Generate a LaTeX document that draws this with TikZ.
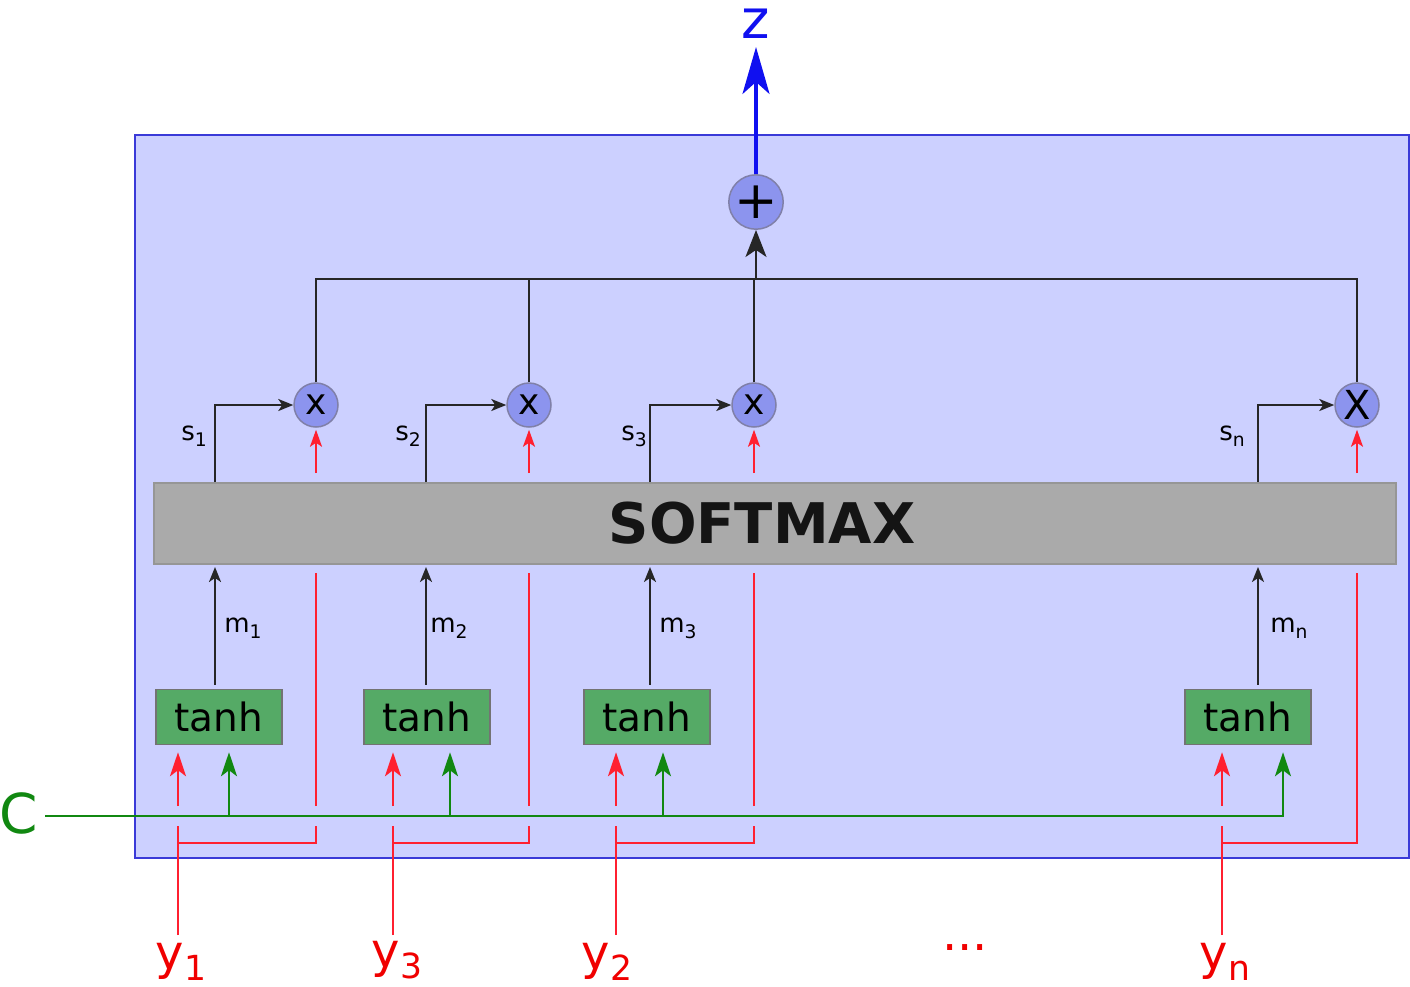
\documentclass[tikz,border=0pt]{standalone}
\usepackage{fontspec}
\setmainfont{DejaVu Sans}
\usetikzlibrary{arrows.meta}
\definecolor{boxfill}{HTML}{CCD0FF}
\definecolor{boxline}{HTML}{3A3AD8}
\definecolor{circfill}{HTML}{8C94EE}
\definecolor{circline}{HTML}{8080A8}
\definecolor{redl}{HTML}{FF2030}
\definecolor{redt}{HTML}{F00000}
\definecolor{greenl}{HTML}{118811}
\definecolor{tanhfill}{HTML}{55AA66}
\definecolor{smfill}{HTML}{AAAAAA}
\definecolor{smline}{HTML}{969696}
\definecolor{zblue}{HTML}{1010F0}
\newcommand{\subs}[1]{\raisebox{-0.22em}{\scalebox{0.72}{#1}}}
\newcommand{\fs}[1]{\fontsize{#1}{#1}\selectfont}
\begin{document}
\begin{tikzpicture}[x=1pt,y=-1pt,
  frame/.style={draw=boxline,line width=1.8pt,fill=boxfill,minimum width=1274pt,minimum height=723pt,inner sep=0pt},
  smbox/.style={draw=smline,line width=2pt,fill=smfill,minimum width=1242pt,minimum height=81pt,inner sep=0pt,font=\fs{56}\bfseries,text=black!92},
  tanhbox/.style={draw=black!55,line width=1.5pt,fill=tanhfill,minimum width=126pt,minimum height=55pt,inner sep=0pt,font=\fs{39}},
  mult/.style={circle,draw=circline,line width=1.5pt,fill=circfill,minimum size=44pt,inner sep=0pt,font=\fs{36}},
  plusc/.style={circle,draw=circline,line width=1.5pt,fill=circfill,minimum size=54pt,inner sep=0pt,font=\fs{52}},
  lbl/.style={inner sep=0pt,font=\fs{26}},
  ylbl/.style={inner sep=0pt,font=\fs{48},text=redt},
  bline/.style={draw=black!85,line width=2pt},
  rline/.style={draw=redl,line width=2pt},
  gline/.style={draw=greenl,line width=2.4pt},
  sarrow/.style={-{Stealth[length=15pt,width=12pt,inset=4pt]}},
  barrow/.style={-{Stealth[length=27pt,width=21pt,inset=7pt]}},
  tarrow/.style={-{Stealth[length=24pt,width=16pt,inset=6pt]}},
  rsarrow/.style={-{Stealth[length=17pt,width=12pt,inset=4pt]}},
  zarrow/.style={-{Stealth[length=47pt,width=27pt,inset=12pt]}}
]
\useasboundingbox (0,0) rectangle (1410,986);
% levels
\coordinate (ytop) at (0,935);
\coordinate (lowA) at (0,826);
\coordinate (lowB) at (0,806);
\coordinate (rbus) at (0,843);
\coordinate (smlo) at (0,573);
\coordinate (smhi) at (0,473);
\coordinate (bus) at (0,279);
\coordinate (cl) at (45,816);
% columns
\coordinate (r1) at (178,0); \coordinate (g1) at (229,0); \coordinate (s1) at (215,0);
\coordinate (r2) at (393,0); \coordinate (g2) at (450,0); \coordinate (s2) at (426,0);
\coordinate (r3) at (616,0); \coordinate (g3) at (663,0); \coordinate (s3) at (650,0);
\coordinate (rn) at (1222,0); \coordinate (gn) at (1283,0); \coordinate (sn) at (1258,0);

\node[frame] (frame) at (772,496.5) {};
\node[smbox] (sm) at (775,523.5) {\hspace*{-26pt}SOFTMAX};
\node[tanhbox] (t1) at (219,717) {tanh};
\node[tanhbox] (t2) at (427,717) {tanh};
\node[tanhbox] (t3) at (647,717) {tanh};
\node[tanhbox] (tn) at (1248,717) {tanh};
\node[mult] (x1) at (316,405) {x};
\node[mult] (x2) at (529,405) {x};
\node[mult] (x3) at (754,405) {x};
\node[mult,font=\fs{40}] (xn) at (1357,405) {X};
\node[plusc] (plus) at (756,202) {+};

% labels
\node[lbl] (ls1) at (194,436) {s\subs{1}};
\node[lbl] (ls2) at (408,436) {s\subs{2}};
\node[lbl] (ls3) at (634,436) {s\subs{3}};
\node[lbl] (lsn) at (1232,436) {s\subs{n}};
\node[lbl] (lm1) at (243,628) {m\subs{1}};
\node[lbl] (lm2) at (449,628) {m\subs{2}};
\node[lbl] (lm3) at (678,628) {m\subs{3}};
\node[lbl] (lmn) at (1289,628) {m\subs{n}};
\node[ylbl] (y1) at (181,962) {y\subs{1}};
\node[ylbl] (y3) at (397,960) {y\subs{3}};
\node[ylbl] (y2) at (607,962) {y\subs{2}};
\node[ylbl] (yn) at (1225,962) {y\subs{n}};
\node[ylbl] (dots) at (965,948) {...};
\node[inner sep=0pt,font=\fs{54},text=zblue] (z) at (756,24) {z};
\node[inner sep=0pt,font=\fs{55},text=greenl] (C) at (19,813) {C};

% green context line
\draw[gline,tarrow,shorten >=7pt] (cl) -| (tn.south -| gn);
\foreach \i in {1,2,3}{
  \draw[gline,tarrow,shorten >=7pt] (g\i |- cl) -- (t\i.south -| g\i);
}
% red inputs
\foreach \i/\t/\x in {1/t1/x1,2/t2/x2,3/t3/x3}{
  \draw[rline] (r\i |- ytop) -- (r\i |- lowA);
  \draw[rline,tarrow,shorten >=7pt] (r\i |- lowB) -- (\t.south -| r\i);
  \draw[rline] (r\i |- rbus) -- (\x.south |- rbus) -- (\x.south |- lowA);
  \draw[rline] (\x.south |- lowB) -- (\x.south |- smlo);
  \draw[rline,rsarrow,shorten >=2pt] (\x.south |- smhi) -- (\x.south);
}
\draw[rline] (rn |- ytop) -- (rn |- lowA);
\draw[rline,tarrow,shorten >=7pt] (rn |- lowB) -- (tn.south -| rn);
\draw[rline] (rn |- rbus) -- (xn.south |- rbus) -- (xn.south |- smlo);
\draw[rline,rsarrow,shorten >=2pt] (xn.south |- smhi) -- (xn.south);

% m arrows and s arrows
\foreach \i in {1,2,3,n}{
  \draw[bline,sarrow,shorten <=4pt,shorten >=2pt] (t\i.north -| s\i) -- (sm.south -| s\i);
  \draw[bline,sarrow] (sm.north -| s\i) |- (x\i.west);
}
% sum bus
\draw[bline] (x1.north) |- (xn.north |- bus) -- (xn.north);
\draw[bline] (x2.north) -- (x2.north |- bus);
\draw[bline] (x3.north) -- (x3.north |- bus);
\draw[bline,barrow] (plus.south |- bus) -- (plus.south);
% output
\draw[draw=zblue,line width=3.2pt,zarrow,shorten >=8pt] (plus.north) -- (z.south);
\end{tikzpicture}
\end{document}
